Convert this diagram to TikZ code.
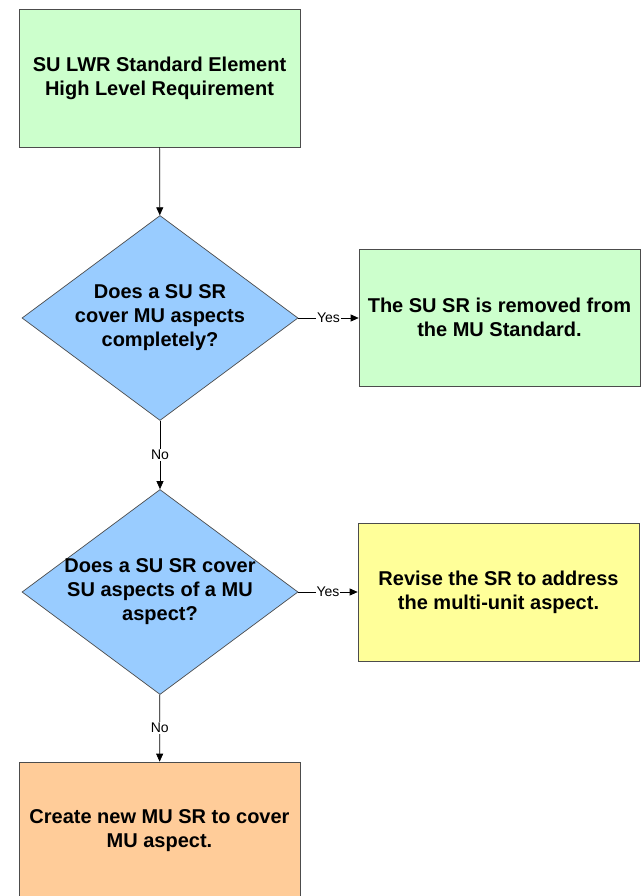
\documentclass[tikz,border=0pt]{standalone}
\usepackage{fontspec}
\setmainfont{Liberation Sans}
\usetikzlibrary{%
  arrows.meta,%
  shapes.geometric,% wg. diamond
  positioning%
}

\definecolor{boxgreen}{HTML}{CCFFCC}
\definecolor{boxblue}{HTML}{99CCFF}
\definecolor{boxyellow}{HTML}{FFFF99}
\definecolor{boxorange}{HTML}{FFCC99}

\begin{document}
\begin{tikzpicture}[
  x=1pt, y=-1pt,
  font=\fontsize{20}{24}\selectfont\bfseries,
  >={Stealth[length=8pt,width=7pt,inset=0pt]},
  line width=0.7pt,
  stepbox/.style={draw=black!70, align=center, inner sep=0pt,
    minimum width=281pt, minimum height=138pt},
  question/.style={diamond, draw=black!70, fill=boxblue, inner sep=0pt,
    minimum width=276pt, minimum height=205pt},
  qtext/.style={align=center, inner sep=0pt},
  answer/.style={font=\fontsize{14}{16}\selectfont, fill=white, inner sep=1pt},
]

\useasboundingbox (0,0) rectangle (642,896);

\node[stepbox, fill=boxgreen] (hlr) at (159.5,78)
  {SU LWR Standard Element\\High Level Requirement};
\node[question, label={[qtext]center:{Does a SU SR\\cover MU aspects\\completely?}}]
  (q1) at (160,318) {};
\node[stepbox, fill=boxgreen, minimum height=137pt] (removed) at (499.5,317.5)
  {The SU SR is removed from\\the MU Standard.};
\node[question, label={[qtext]center:{Does a SU SR cover\\SU aspects of a MU\\aspect?}}]
  (q2) at (160,592) {};
\node[stepbox, fill=boxyellow] (revise) at (498.5,592)
  {Revise the SR to address\\the multi-unit aspect.};
\node[stepbox, fill=boxorange] (create) at (159.5,831)
  {Create new MU SR to cover\\MU aspect.};

\draw[->] (hlr) -- (q1);
\draw[->] (q1.east) -- node[answer] {Yes} (q1.east -| removed.west);
\draw[->] (q1) -- node[answer] {No} (q2);
\draw[->] (q2.east) -- node[answer] {Yes} (q2.east -| revise.west);
\draw[->] (q2) -- node[answer] {No} (create);

\end{tikzpicture}
\end{document}
